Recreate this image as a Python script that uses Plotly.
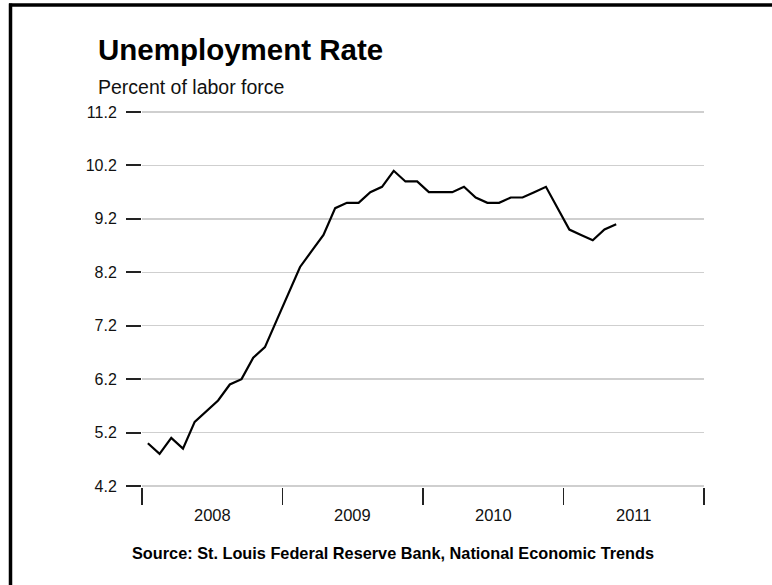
import plotly.graph_objects as go

# ---- data ----
months = list(range(41))  # Jan 2008 .. May 2011, month index
rate = [5.0, 4.8, 5.1, 4.9, 5.4, 5.6, 5.8, 6.1, 6.2, 6.6, 6.8, 7.3,
        7.8, 8.3, 8.6, 8.9, 9.4, 9.5, 9.5, 9.7, 9.8, 10.1, 9.9, 9.9,
        9.7, 9.7, 9.7, 9.8, 9.6, 9.5, 9.5, 9.6, 9.6, 9.7, 9.8, 9.4,
        9.0, 8.9, 8.8, 9.0, 9.1]
years = ["2008", "2009", "2010", "2011"]
y_ticks = [4.2, 5.2, 6.2, 7.2, 8.2, 9.2, 10.2, 11.2]
y_tick_text = ["4.2", "5.2", "6.2", "7.2", "8.2", "9.2", "10.2", "11.2"]

W, H = 772, 585
L, R, T, B = 142, 68, 112, 99
FONT = "Liberation Sans, Arial, Helvetica, sans-serif"


def pxx(px):
    return (px - L) / (W - L - R)


def pxy(py):
    return (H - B - py) / (H - T - B)


x_mid = [m + 0.5 for m in months]

fig = go.Figure()
fig.add_trace(go.Scatter(x=x_mid, y=rate, mode="lines",
                         line=dict(color="black", width=2.2),
                         hoverinfo="skip", showlegend=False))

fig.update_layout(
    width=W, height=H,
    margin=dict(l=L, r=R, t=T - 1, b=B - 1, pad=0),
    paper_bgcolor="white", plot_bgcolor="white",
    font=dict(family=FONT, color="#111", size=16),
    xaxis=dict(range=[0, 48], showgrid=False, zeroline=False, showline=False,
               tickvals=[0, 12, 24, 36, 48], ticktext=["", "", "", "", ""],
               ticks="outside", ticklen=17, tickwidth=1.6, tickcolor="#222",
               fixedrange=True),
    yaxis=dict(range=[4.2 - 0.019, 11.2 + 0.019], tickvals=y_ticks,
               ticktext=y_tick_text,
               showgrid=True, gridcolor="#cfcfcf", gridwidth=1.5,
               zeroline=False, showline=False,
               ticks="outside", ticklen=15, tickwidth=2, tickcolor="#222",
               ticklabelstandoff=6,
               tickfont=dict(size=16, color="#111", family=FONT),
               fixedrange=True),
)

annotations = []
for i, yr in enumerate(years):
    annotations.append(dict(x=12 * i + 6, y=pxy(514), xref="x", yref="paper",
                            text=yr, showarrow=False, xanchor="center",
                            yanchor="middle",
                            font=dict(size=16.5, color="#111", family=FONT)))
annotations.append(dict(x=pxx(96), y=pxy(51), xref="paper", yref="paper",
                        text="<b>Unemployment Rate</b>", showarrow=False,
                        xanchor="left", yanchor="middle",
                        font=dict(size=29.5, color="#000", family=FONT)))
annotations.append(dict(x=pxx(96), y=pxy(88), xref="paper", yref="paper",
                        text="Percent of labor force", showarrow=False,
                        xanchor="left", yanchor="middle",
                        font=dict(size=19.5, color="#111", family=FONT)))
annotations.append(dict(x=pxx(393), y=pxy(552), xref="paper", yref="paper",
                        text="<b>Source: St. Louis Federal Reserve Bank, National Economic Trends</b>",
                        showarrow=False, xanchor="center", yanchor="middle",
                        font=dict(size=16.3, color="#000", family=FONT)))
fig.update_layout(annotations=annotations)

# frame (top and left border)
fig.add_shape(type="line", xref="paper", yref="paper",
              x0=pxx(9), x1=pxx(775), y0=pxy(6.5), y1=pxy(6.5),
              line=dict(color="black", width=3.5))
fig.add_shape(type="line", xref="paper", yref="paper",
              x0=pxx(10.5), x1=pxx(10.5), y0=pxy(5), y1=pxy(590),
              line=dict(color="black", width=3.5))

fig.write_html("out.html", config={"displayModeBar": False, "staticPlot": True},
               post_script="document.body.style.margin='0';document.body.style.overflow='hidden';")
